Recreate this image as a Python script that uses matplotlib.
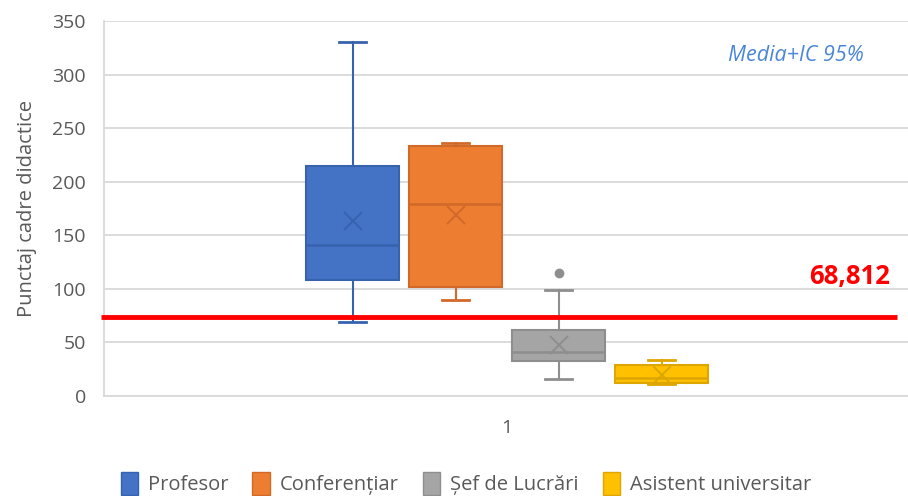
import numpy as np
import matplotlib
matplotlib.use('Agg')
import matplotlib.pyplot as plt
from matplotlib.patches import Patch

plt.rcParams['font.family'] = ['Open Sans', 'DejaVu Sans']

# date
grupe = ['Profesor', 'Conferențiar', 'Șef de Lucrări', 'Asistent universitar']
q1 = [108, 102, 32, 12]
mediana = [141, 179, 41, 17]
q3 = [215, 233, 61, 29]
minim = [69, 89, 16, 11]
maxim = [330, 236, 99, 33]
media = [163, 169, 47, 19]
outliers = [[], [], [115], []]
prag = 73.5
prag_text = '68,812'

culori = ['#4472C4', '#ED7D31', '#A5A5A5', '#FFC000']
margini = ['#3762AE', '#D0692A', '#8E8E8E', '#DDA600']

fig = plt.figure(figsize=(9.08, 4.96), dpi=100)
ax = fig.add_axes([104/908, 1-395.7/496, 804/908, (395.7-21)/496])

stats = []
for i in range(len(grupe)):
    stats.append(dict(med=mediana[i], q1=q1[i], q3=q3[i], whislo=minim[i],
                      whishi=maxim[i], mean=media[i], fliers=outliers[i]))

poz = np.arange(1, len(grupe)+1)
for i in range(len(grupe)):
    ec = margini[i]
    ax.bxp([stats[i]], positions=[poz[i]], widths=0.91, capwidths=0.27,
           patch_artist=True, showmeans=True, showfliers=True,
           boxprops=dict(facecolor=culori[i], edgecolor=ec, linewidth=1.5),
           medianprops=dict(color=ec, linewidth=1.8),
           whiskerprops=dict(color=ec, linewidth=1.5),
           capprops=dict(color=ec, linewidth=2),
           meanprops=dict(marker='x', markersize=13, markeredgecolor=ec,
                          markeredgewidth=1.4),
           flierprops=dict(marker='o', markersize=6, markerfacecolor=ec,
                           markeredgecolor=ec),
           zorder=3)

ax.set_xlim(1-(352.5-104)/103, 1+(908-352.5)/103)
ax.set_ylim(0, 350)
ax.set_yticks(np.arange(0, 351, 50))
ax.set_xticks([2.5])
ax.set_xticklabels(['1'])
ax.tick_params(axis='both', length=0, labelsize=14, colors='#595959')
ax.tick_params(axis='y', pad=13)
ax.tick_params(axis='x', pad=17)
ax.grid(True, axis='y', color='#D9D9D9', linewidth=1.3, zorder=0)
for s in ['top', 'right']:
    ax.spines[s].set_visible(False)
for s in ['left', 'bottom']:
    ax.spines[s].set_color('#D9D9D9')
    ax.spines[s].set_linewidth(1.3)
ax.set_ylabel('Punctaj cadre didactice', fontsize=14.5, color='#595959', labelpad=11)

# linia de prag
ax.plot([1+(101-352.5)/103, 1+(897-352.5)/103], [prag, prag], color='#FF0000',
        linewidth=3.5, clip_on=False, zorder=4, solid_capstyle='butt')
ax.text(1+(890-352.5)/103, 104, prag_text, color='#FF0000', fontsize=18.5,
        fontweight='bold', ha='right', va='baseline')
ax.text(1+(796-352.5)/103, 318, 'Media+IC 95%', color='#4A86D8', fontsize=15.5,
        style='italic', ha='center', va='center')

handles = [Patch(facecolor=culori[i], edgecolor=margini[i], label=grupe[i]) for i in range(len(grupe))]
fig.legend(handles=handles, loc='lower center', bbox_to_anchor=(0.513, -0.035), ncol=4,
           frameon=False, fontsize=14.5, handlelength=0.85, handleheight=1.35,
           handletextpad=0.5, columnspacing=1.2, labelcolor='#595959')

fig.savefig('out.png', dpi=100)
